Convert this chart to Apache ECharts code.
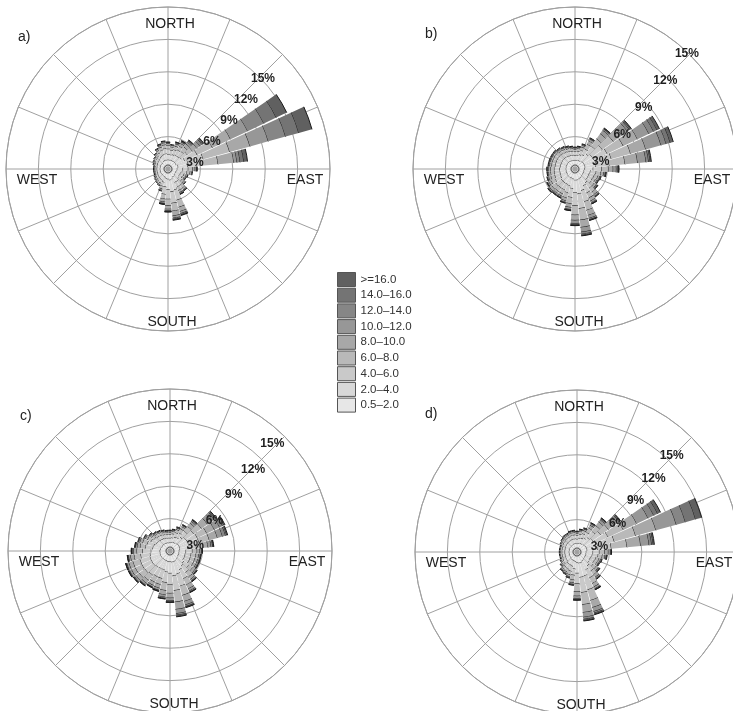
<!DOCTYPE html>
<html>
<head>
<meta charset="utf-8">
<script src="https://cdn.jsdelivr.net/npm/echarts@6/dist/echarts.min.js"></script>
<style>
  html, body { margin: 0; padding: 0; background: #fff; }
  #chart { width: 733px; height: 711px; }
</style>
</head>
<body>
<div id="chart"></div>
<script>
// wind directions (bin centres, degrees from north)
const directions = [0, 10, 20, 30, 40, 50, 60, 70, 80, 90, 100, 110, 120, 130, 140, 150, 160, 170,
  180, 190, 200, 210, 220, 230, 240, 250, 260, 270, 280, 290, 300, 310, 320, 330, 340, 350]

// wind speed classes, lowest first
const speedClasses = ['0.5–2.0', '2.0–4.0', '4.0–6.0', '6.0–8.0', '8.0–10.0', '10.0–12.0', '12.0–14.0', '14.0–16.0', '>=16.0']
const classColors = ['#e7e7e7', '#d8d8d8', '#c9c9c9', '#b9b9b9', '#a8a8a8', '#979797', '#868686', '#747474', '#606060']

// percentage rings that carry a label
const ringLabels = [3, 6, 9, 12, 15]

// frequency (%) per direction, one row per direction, one column per speed class
const roseA = [
  [0.5, 0.55, 0.5, 0.35, 0.18, 0.07, 0.03, 0, 0],
  [0.5, 0.5, 0.45, 0.3, 0.15, 0.06, 0, 0, 0],
  [0.5, 0.55, 0.5, 0.35, 0.22, 0.1, 0.05, 0.02, 0],
  [0.5, 0.6, 0.55, 0.4, 0.28, 0.15, 0.07, 0.03, 0.02],
  [0.5, 0.6, 0.6, 0.5, 0.35, 0.22, 0.13, 0.06, 0.04],
  [0.5, 0.7, 0.7, 0.6, 0.5, 0.35, 0.25, 0.12, 0.08],
  [0.5, 0.9, 1.3, 1.6, 1.9, 1.8, 1.7, 1.3, 1.1],
  [0.6, 1.0, 1.5, 2.6, 2.0, 1.8, 1.7, 1.3, 1.3],
  [0.6, 0.9, 1.3, 1.6, 1.5, 0.3, 0.3, 0.35, 0.35],
  [0.5, 0.55, 0.5, 0.4, 0.25, 0.12, 0.05, 0.02, 0],
  [0.5, 0.5, 0.45, 0.3, 0.15, 0.06, 0, 0, 0],
  [0.42, 0.45, 0.35, 0.22, 0.12, 0.04, 0, 0, 0],
  [0.4, 0.45, 0.3, 0.2, 0.1, 0.05, 0, 0, 0],
  [0.45, 0.45, 0.38, 0.22, 0.14, 0.06, 0, 0, 0],
  [0.5, 0.55, 0.5, 0.35, 0.18, 0.07, 0.03, 0, 0],
  [0.5, 0.55, 0.5, 0.35, 0.22, 0.1, 0.05, 0.02, 0],
  [0.65, 1.05, 1.0, 0.7, 0.42, 0.2, 0.1, 0.05, 0.03],
  [0.7, 1.1, 1.1, 0.75, 0.45, 0.22, 0.1, 0.05, 0.03],
  [0.6, 1.0, 0.9, 0.6, 0.35, 0.15, 0.06, 0.03, 0.01],
  [0.55, 0.8, 0.7, 0.45, 0.28, 0.13, 0.05, 0.03, 0.01],
  [0.45, 0.5, 0.4, 0.25, 0.14, 0.06, 0, 0, 0],
  [0.42, 0.42, 0.3, 0.17, 0.09, 0, 0, 0, 0],
  [0.4, 0.4, 0.27, 0.16, 0.07, 0, 0, 0, 0],
  [0.4, 0.36, 0.24, 0.13, 0.07, 0, 0, 0, 0],
  [0.4, 0.33, 0.22, 0.1, 0.05, 0, 0, 0, 0],
  [0.4, 0.3, 0.18, 0.08, 0.04, 0, 0, 0, 0],
  [0.4, 0.3, 0.18, 0.08, 0.04, 0, 0, 0, 0],
  [0.4, 0.3, 0.18, 0.08, 0.04, 0, 0, 0, 0],
  [0.4, 0.3, 0.18, 0.08, 0.04, 0, 0, 0, 0],
  [0.4, 0.33, 0.22, 0.1, 0.05, 0, 0, 0, 0],
  [0.4, 0.36, 0.24, 0.13, 0.07, 0, 0, 0, 0],
  [0.4, 0.4, 0.27, 0.16, 0.07, 0, 0, 0, 0],
  [0.4, 0.45, 0.3, 0.2, 0.1, 0.05, 0, 0, 0],
  [0.45, 0.5, 0.4, 0.25, 0.14, 0.06, 0, 0, 0],
  [0.5, 0.55, 0.45, 0.3, 0.17, 0.08, 0.05, 0, 0],
  [0.5, 0.6, 0.5, 0.35, 0.2, 0.1, 0.05, 0, 0]
]

const roseB = [
  [0.45, 0.45, 0.38, 0.22, 0.12, 0.05, 0.03, 0, 0],
  [0.45, 0.5, 0.4, 0.25, 0.12, 0.05, 0.03, 0, 0],
  [0.5, 0.55, 0.45, 0.3, 0.17, 0.08, 0.05, 0, 0],
  [0.5, 0.65, 0.6, 0.5, 0.35, 0.2, 0.06, 0.04, 0],
  [0.55, 0.85, 0.9, 0.85, 0.6, 0.4, 0.15, 0.06, 0.04],
  [0.6, 1.0, 1.2, 1.3, 1.0, 0.65, 0.25, 0.12, 0.08],
  [0.6, 1.0, 1.4, 1.7, 1.5, 1.2, 0.5, 0.35, 0.25],
  [0.6, 1.1, 1.5, 1.9, 1.5, 1.5, 0.5, 0.4, 0.3],
  [0.6, 1.0, 1.3, 1.5, 1.2, 0.8, 0.25, 0.15, 0.1],
  [0.55, 0.8, 0.8, 0.65, 0.45, 0.3, 0.15, 0.06, 0.04],
  [0.5, 0.6, 0.55, 0.45, 0.28, 0.14, 0.05, 0.03, 0],
  [0.5, 0.55, 0.5, 0.35, 0.18, 0.07, 0.05, 0, 0],
  [0.5, 0.55, 0.45, 0.3, 0.17, 0.08, 0.05, 0, 0],
  [0.5, 0.55, 0.5, 0.35, 0.22, 0.1, 0.05, 0.03, 0],
  [0.55, 0.7, 0.65, 0.45, 0.3, 0.15, 0.06, 0.04, 0],
  [0.6, 0.8, 0.75, 0.52, 0.33, 0.18, 0.07, 0.04, 0.01],
  [0.65, 1.1, 1.1, 0.85, 0.5, 0.3, 0.12, 0.05, 0.03],
  [0.7, 1.3, 1.4, 1.1, 0.7, 0.45, 0.2, 0.1, 0.05],
  [0.7, 1.2, 1.2, 0.9, 0.5, 0.3, 0.12, 0.05, 0.03],
  [0.6, 0.9, 0.85, 0.6, 0.35, 0.2, 0.06, 0.03, 0.01],
  [0.55, 0.75, 0.7, 0.5, 0.28, 0.14, 0.05, 0.03, 0],
  [0.55, 0.7, 0.6, 0.42, 0.23, 0.12, 0.05, 0.03, 0],
  [0.55, 0.7, 0.6, 0.42, 0.23, 0.12, 0.05, 0.03, 0],
  [0.55, 0.7, 0.65, 0.45, 0.25, 0.12, 0.05, 0.03, 0],
  [0.5, 0.65, 0.6, 0.42, 0.24, 0.12, 0.04, 0.03, 0],
  [0.5, 0.6, 0.55, 0.38, 0.22, 0.1, 0.05, 0, 0],
  [0.5, 0.6, 0.52, 0.36, 0.2, 0.08, 0.04, 0, 0],
  [0.5, 0.6, 0.52, 0.36, 0.2, 0.08, 0.04, 0, 0],
  [0.5, 0.55, 0.5, 0.35, 0.18, 0.07, 0.05, 0, 0],
  [0.5, 0.55, 0.5, 0.35, 0.18, 0.07, 0.05, 0, 0],
  [0.5, 0.55, 0.5, 0.35, 0.18, 0.07, 0.05, 0, 0],
  [0.5, 0.55, 0.5, 0.35, 0.18, 0.07, 0.05, 0, 0],
  [0.5, 0.55, 0.45, 0.3, 0.17, 0.08, 0.05, 0, 0],
  [0.5, 0.5, 0.45, 0.3, 0.15, 0.06, 0.04, 0, 0],
  [0.48, 0.5, 0.42, 0.27, 0.13, 0.06, 0.04, 0, 0],
  [0.45, 0.5, 0.4, 0.25, 0.12, 0.05, 0.03, 0, 0]
]

const roseC = [
  [0.42, 0.45, 0.35, 0.2, 0.11, 0.04, 0.03, 0, 0],
  [0.45, 0.45, 0.38, 0.22, 0.12, 0.05, 0.03, 0, 0],
  [0.5, 0.5, 0.45, 0.3, 0.15, 0.06, 0.04, 0, 0],
  [0.5, 0.55, 0.5, 0.4, 0.25, 0.12, 0.05, 0.03, 0],
  [0.55, 0.7, 0.7, 0.55, 0.38, 0.22, 0.12, 0.05, 0.03],
  [0.6, 0.85, 0.95, 0.9, 0.7, 0.5, 0.3, 0.12, 0.08],
  [0.6, 0.9, 1.0, 1.0, 0.8, 0.55, 0.3, 0.15, 0.1],
  [0.6, 0.9, 1.0, 1.0, 0.8, 0.5, 0.3, 0.12, 0.08],
  [0.55, 0.8, 0.8, 0.65, 0.45, 0.3, 0.15, 0.06, 0.04],
  [0.5, 0.65, 0.6, 0.45, 0.27, 0.14, 0.06, 0.03, 0],
  [0.5, 0.6, 0.55, 0.45, 0.28, 0.14, 0.05, 0.03, 0],
  [0.5, 0.6, 0.55, 0.45, 0.28, 0.14, 0.05, 0.03, 0],
  [0.5, 0.6, 0.55, 0.45, 0.28, 0.14, 0.05, 0.03, 0],
  [0.55, 0.7, 0.6, 0.45, 0.28, 0.14, 0.05, 0.03, 0],
  [0.6, 0.8, 0.75, 0.5, 0.3, 0.15, 0.06, 0.03, 0.01],
  [0.65, 0.95, 0.95, 0.65, 0.42, 0.22, 0.1, 0.04, 0.02],
  [0.7, 1.2, 1.2, 0.9, 0.6, 0.35, 0.15, 0.06, 0.04],
  [0.7, 1.3, 1.4, 1.1, 0.7, 0.4, 0.15, 0.1, 0.05],
  [0.65, 1.1, 1.1, 0.8, 0.45, 0.25, 0.1, 0.04, 0.01],
  [0.65, 1.0, 1.0, 0.75, 0.42, 0.22, 0.1, 0.04, 0.02],
  [0.6, 0.9, 0.85, 0.6, 0.35, 0.2, 0.06, 0.03, 0.01],
  [0.6, 0.9, 0.85, 0.58, 0.33, 0.16, 0.05, 0.02, 0.01],
  [0.6, 0.95, 0.9, 0.62, 0.35, 0.18, 0.06, 0.03, 0.01],
  [0.62, 1.0, 0.95, 0.66, 0.38, 0.18, 0.07, 0.03, 0.01],
  [0.62, 1.0, 0.98, 0.7, 0.4, 0.2, 0.06, 0.03, 0.01],
  [0.62, 1.0, 0.98, 0.7, 0.4, 0.2, 0.06, 0.03, 0.01],
  [0.6, 0.95, 0.9, 0.62, 0.35, 0.18, 0.06, 0.03, 0.01],
  [0.6, 0.85, 0.8, 0.55, 0.3, 0.13, 0.04, 0.02, 0.01],
  [0.55, 0.75, 0.7, 0.5, 0.28, 0.14, 0.05, 0.03, 0],
  [0.55, 0.7, 0.65, 0.45, 0.27, 0.12, 0.06, 0, 0],
  [0.5, 0.6, 0.55, 0.38, 0.22, 0.1, 0.05, 0, 0],
  [0.5, 0.55, 0.45, 0.3, 0.17, 0.08, 0.05, 0, 0],
  [0.48, 0.5, 0.42, 0.27, 0.13, 0.06, 0.04, 0, 0],
  [0.45, 0.5, 0.4, 0.25, 0.12, 0.05, 0.03, 0, 0],
  [0.45, 0.45, 0.38, 0.22, 0.12, 0.05, 0.03, 0, 0],
  [0.42, 0.45, 0.35, 0.2, 0.11, 0.04, 0.03, 0, 0]
]

const roseD = [
  [0.42, 0.45, 0.35, 0.2, 0.11, 0.04, 0.03, 0, 0],
  [0.45, 0.5, 0.4, 0.25, 0.12, 0.05, 0.03, 0, 0],
  [0.5, 0.5, 0.45, 0.3, 0.15, 0.06, 0.04, 0, 0],
  [0.5, 0.6, 0.6, 0.45, 0.3, 0.15, 0.06, 0.04, 0],
  [0.55, 0.75, 0.75, 0.65, 0.45, 0.25, 0.12, 0.05, 0.03],
  [0.55, 0.9, 0.95, 0.9, 0.65, 0.4, 0.2, 0.1, 0.05],
  [0.6, 1.0, 1.3, 1.6, 1.4, 1.2, 0.6, 0.4, 0.3],
  [0.6, 1.1, 1.6, 2.1, 2.0, 2.0, 0.9, 1.0, 0.6],
  [0.6, 1.0, 1.3, 1.5, 1.3, 0.8, 0.25, 0.15, 0.1],
  [0.5, 0.65, 0.6, 0.5, 0.35, 0.2, 0.06, 0.04, 0],
  [0.5, 0.6, 0.55, 0.4, 0.25, 0.12, 0.05, 0.03, 0],
  [0.5, 0.55, 0.45, 0.3, 0.17, 0.08, 0.05, 0, 0],
  [0.5, 0.5, 0.45, 0.3, 0.15, 0.06, 0.04, 0, 0],
  [0.5, 0.55, 0.5, 0.35, 0.22, 0.1, 0.05, 0.03, 0],
  [0.55, 0.7, 0.6, 0.45, 0.28, 0.14, 0.05, 0.03, 0],
  [0.6, 0.9, 0.85, 0.6, 0.35, 0.2, 0.06, 0.03, 0.01],
  [0.7, 1.3, 1.35, 1.05, 0.7, 0.4, 0.15, 0.1, 0.05],
  [0.7, 1.35, 1.45, 1.15, 0.75, 0.45, 0.2, 0.1, 0.05],
  [0.65, 1.0, 1.0, 0.75, 0.42, 0.22, 0.1, 0.04, 0.02],
  [0.55, 0.7, 0.6, 0.45, 0.28, 0.14, 0.05, 0.03, 0],
  [0.5, 0.55, 0.5, 0.35, 0.18, 0.07, 0.05, 0, 0],
  [0.5, 0.5, 0.45, 0.3, 0.15, 0.06, 0.04, 0, 0],
  [0.48, 0.5, 0.42, 0.27, 0.13, 0.06, 0.04, 0, 0],
  [0.42, 0.45, 0.35, 0.2, 0.11, 0.07, 0, 0, 0],
  [0.42, 0.42, 0.3, 0.17, 0.09, 0, 0, 0, 0],
  [0.4, 0.4, 0.27, 0.16, 0.07, 0, 0, 0, 0],
  [0.4, 0.4, 0.27, 0.16, 0.07, 0, 0, 0, 0],
  [0.4, 0.4, 0.27, 0.16, 0.07, 0, 0, 0, 0],
  [0.4, 0.4, 0.27, 0.16, 0.07, 0, 0, 0, 0],
  [0.4, 0.4, 0.27, 0.16, 0.07, 0, 0, 0, 0],
  [0.42, 0.42, 0.3, 0.17, 0.09, 0, 0, 0, 0],
  [0.4, 0.45, 0.3, 0.2, 0.1, 0.05, 0, 0, 0],
  [0.42, 0.45, 0.35, 0.2, 0.11, 0.07, 0, 0, 0],
  [0.42, 0.45, 0.35, 0.2, 0.11, 0.07, 0, 0, 0],
  [0.45, 0.45, 0.38, 0.22, 0.12, 0.05, 0.03, 0, 0],
  [0.45, 0.45, 0.38, 0.22, 0.12, 0.05, 0.03, 0, 0]
]

const FONT = '"Liberation Sans", Arial, sans-serif'
const R = 162        // outer circle, px
const HOLE = 4       // calm hole in the middle, px
const HALF = 4.6     // half width of a wedge, degrees
const gridColor = '#a0a0a0'

// lab: the % labels run along a slanted line, not exactly on a spoke
const panels = [
  { tag: 'a)', rows: roseA, center: [168, 169], tagPos: [18, 37], lab: { angle: 51, min: 0.57, r: 130, shift: -17 } },
  { tag: 'b)', rows: roseB, center: [575, 169], tagPos: [425, 34], lab: { angle: 51.5, min: 1.14, r: 160, shift: -15.7 } },
  { tag: 'c)', rows: roseC, center: [170, 551], tagPos: [20, 416], lab: { angle: 52.7, min: 1.16, r: 147, shift: -16.7 } },
  { tag: 'd)', rows: roseD, center: [577, 552], tagPos: [425, 414], lab: { angle: 51.7, min: 1.13, r: 134.5, shift: -14.4 } },
]

// one stacked wedge segment, plus the dark arc on its outer edge
const renderSegment = (params, api) => {
  const cs = params.coordSys
  const lo = api.value(0)
  const dir = api.value(1)
  const hi = api.value(2)
  const pa = api.coord([hi, dir - HALF])
  const pb = api.coord([hi, dir + HALF])
  const pl = api.coord([lo, dir])
  const rOut = Math.hypot(pa[0] - cs.cx, pa[1] - cs.cy)
  const rIn = Math.hypot(pl[0] - cs.cx, pl[1] - cs.cy)
  const s0 = Math.atan2(pa[1] - cs.cy, pa[0] - cs.cx)
  let s1 = Math.atan2(pb[1] - cs.cy, pb[0] - cs.cx)
  if (s1 < s0) s1 += Math.PI * 2
  const arc = (r) => ({
    type: 'arc',
    shape: { cx: cs.cx, cy: cs.cy, r, startAngle: s0, endAngle: s1, clockwise: true },
    style: { stroke: '#1b1b1b', lineWidth: 1, fill: null },
  })
  const children = [
    {
      type: 'sector',
      shape: { cx: cs.cx, cy: cs.cy, r0: rIn, r: rOut, startAngle: s0, endAngle: s1, clockwise: true },
      style: { fill: api.visual('color') },
    },
    arc(rOut),
  ]
  if (lo === 0) children.push(arc(rIn))
  return { type: 'group', children }
}

const polar = []
const angleAxis = []
const radiusAxis = []
const series = []
const graphic = []

panels.forEach((p, i) => {
  const g = i * 3
  // grid, data and label layers share one centre
  polar.push({ center: p.center, radius: R }, { center: p.center, radius: [HOLE, R] }, { center: p.center, radius: p.lab.r })

  angleAxis.push(
    {
      polarIndex: g, type: 'value', min: 0, max: 360, interval: 22.5, startAngle: 90, clockwise: true,
      axisLine: { lineStyle: { color: gridColor, width: 1 } },
      axisTick: { show: false },
      axisLabel: { show: false },
      splitLine: { show: true, lineStyle: { color: gridColor, width: 1 } },
    },
    { polarIndex: g + 1, type: 'value', min: 0, max: 360, startAngle: 90, clockwise: true, show: false },
    { polarIndex: g + 2, type: 'value', min: 0, max: 360, startAngle: p.lab.angle, clockwise: true, show: false }
  )

  radiusAxis.push(
    {
      polarIndex: g, type: 'value', min: 0, max: 15, interval: 3,
      axisLine: { show: false }, axisTick: { show: false }, axisLabel: { show: false },
      splitLine: { show: true, lineStyle: { color: gridColor, width: 1 } },
    },
    { polarIndex: g + 1, type: 'value', min: 0, max: 15, show: false },
    {
      polarIndex: g + 2, type: 'value', min: p.lab.min, max: 15, z: 10,
      axisLine: { show: false }, axisTick: { show: false }, splitLine: { show: false },
      axisLabel: {
        customValues: ringLabels, formatter: '{value}%', margin: p.lab.shift, align: 'center', verticalAlign: 'middle',
        fontFamily: FONT, fontWeight: 'bold', fontSize: 12, color: '#1e1e1e',
      },
    }
  )

  speedClasses.forEach((cls, k) => {
    const data = []
    p.rows.forEach((row, d) => {
      if (!(row[k] > 0)) return
      let base = 0
      for (let j = 0; j < k; j++) base += row[j]
      data.push([base, directions[d], base + row[k]])
    })
    series.push({
      type: 'custom',
      name: cls,
      coordinateSystem: 'polar',
      polarIndex: g + 1,
      encode: { radius: 0, angle: 1 },
      itemStyle: { color: classColors[k] },
      renderItem: renderSegment,
      silent: true,
      data,
    })
  })

  const [cx, cy] = p.center
  const txt = (text, x, y, align) => ({
    type: 'text', x, y, z: 20,
    style: { text, fontFamily: FONT, fontSize: 14, fill: '#222', align, verticalAlign: 'middle' },
  })
  graphic.push(
    txt('NORTH', cx + 2, cy - 145, 'center'),
    txt('SOUTH', cx + 4, cy + 153, 'center'),
    txt('WEST', cx - 131, cy + 11, 'center'),
    txt('EAST', cx + 137, cy + 11, 'center'),
    txt(p.tag, p.tagPos[0], p.tagPos[1], 'left')
  )
})

const chart = echarts.init(document.getElementById('chart'))
chart.setOption({
  backgroundColor: '#fff',
  animation: false,
  textStyle: { fontFamily: FONT },
  legend: {
    data: speedClasses.slice().reverse(),
    orient: 'vertical',
    left: 332,
    top: 267,
    icon: 'rect',
    itemWidth: 18,
    itemHeight: 14,
    itemGap: 0.7,
    selectedMode: false,
    itemStyle: { borderColor: '#555', borderWidth: 1 },
    textStyle: { fontFamily: FONT, fontSize: 11.5, color: '#333', lineHeight: 14 },
  },
  polar,
  angleAxis,
  radiusAxis,
  series,
  graphic,
})
</script>
</body>
</html>
